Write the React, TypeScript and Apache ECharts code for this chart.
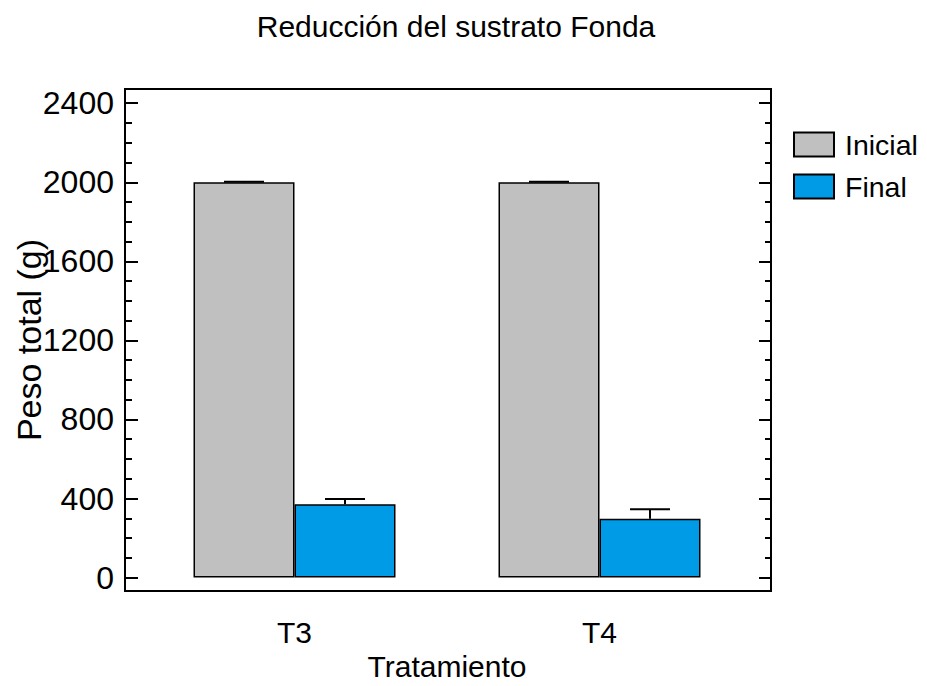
import React, { useEffect, useRef } from "react";
import * as echarts from "echarts";

const categories = ["T3", "T4"];
const inicialValues = [2000, 2000];
const inicialErrors = [3, 3];
const finalValues = [371, 298];
const finalErrors = [27, 48];
const majorTicks = [0, 400, 800, 1200, 1600, 2000, 2400];
const minorTicks = [
  0, 100, 200, 300, 400, 500, 600, 700, 800, 900, 1000, 1100, 1200, 1300, 1400,
  1500, 1600, 1700, 1800, 1900, 2000, 2100, 2200, 2300, 2400,
];

const FONT = "'Liberation Sans', Arial, sans-serif";
const GRAY = "#c0c0c0";
const BLUE = "#009be6";

export default function App() {
  const ref = useRef<HTMLDivElement>(null);
  useEffect(() => {
    if (!ref.current) return;
    const chart = echarts.init(ref.current, null, { renderer: "svg" });
    const yMin = -68;
    const yMax = 2472;
    const barW = 101;
    const bandW = 305;
    const errSeries = (name: string, vals: number[], errs: number[], side: number) => ({
      type: "custom",
      name,
      z: 5,
      data: vals.map((v, i) => [i, v, errs[i]]),
      renderItem: (params: any, api: any) => {
        const idx = api.value(0);
        const v = api.value(1);
        const e = api.value(2);
        const band = api.size([1, 0])[0];
        const off = (side * band * (barW / 2)) / bandW;
        const base = api.coord([idx, v]);
        const top = api.coord([idx, v + e]);
        const x = base[0] + off;
        const st = { stroke: "#000", lineWidth: 2 };
        return {
          type: "group",
          children: [
            { type: "line", shape: { x1: x, y1: base[1], x2: x, y2: top[1] }, style: st },
            { type: "line", shape: { x1: x - 20, y1: top[1], x2: x + 20, y2: top[1] }, style: st },
          ],
        };
      },
    });
    const yCommon = {
      type: "value",
      min: yMin,
      max: yMax,
      splitLine: { show: false },
      axisLine: { show: false },
    };
    chart.setOption({
      animation: false,
      backgroundColor: "#fff",
      textStyle: { fontFamily: FONT },
      title: {
        text: "Reducción del sustrato Fonda",
        left: 451,
        top: 6,
        textAlign: "center",
        textStyle: { fontFamily: FONT, fontSize: 30, fontWeight: "normal", color: "#000" },
      },
      legend: {
        orient: "vertical",
        left: 793,
        top: 130,
        padding: 0,
        itemWidth: 40,
        itemHeight: 24,
        itemGap: 13,
        icon: "rect",
        data: ["Inicial", "Final"],
        textStyle: { fontFamily: FONT, fontSize: 28.5, color: "#000", padding: [0, 0, 0, 6] },
      },
      grid: {
        left: 142,
        right: 175,
        top: 89,
        bottom: 95,
        containLabel: false,
        outerBoundsMode: "none",
      },
      xAxis: {
        type: "category",
        data: categories,
        axisLine: { show: false },
        axisTick: { show: false },
        axisLabel: { fontFamily: FONT, fontSize: 30, color: "#000", margin: 26 },
        name: "Tratamiento",
        nameLocation: "middle",
        nameGap: 60,
        nameMoveOverlap: false,
        nameTextStyle: { fontFamily: FONT, fontSize: 30, color: "#000" },
      },
      yAxis: [
        {
          ...yCommon,
          position: "left",
          offset: 17,
          axisTick: {
            show: true,
            inside: true,
            length: 13,
            customValues: majorTicks,
            lineStyle: { color: "#000", width: 2 },
          },
          axisLabel: {
            customValues: majorTicks,
            formatter: (v: number) => String(v),
            fontFamily: FONT,
            fontSize: 32,
            color: "#000",
            margin: 11,
          },
          name: "Peso total (g)",
          nameLocation: "middle",
          nameGap: 79,
          nameMoveOverlap: false,
          nameTextStyle: { fontFamily: FONT, fontSize: 34, color: "#000" },
        },
        {
          ...yCommon,
          position: "left",
          offset: 17,
          axisTick: {
            show: true,
            inside: true,
            length: 7,
            customValues: minorTicks,
            lineStyle: { color: "#000", width: 2 },
          },
          axisLabel: { show: false },
        },
        {
          ...yCommon,
          position: "right",
          offset: 19,
          axisTick: {
            show: true,
            inside: true,
            length: 12,
            customValues: majorTicks,
            lineStyle: { color: "#000", width: 2 },
          },
          axisLabel: { show: false },
        },
        {
          ...yCommon,
          position: "right",
          offset: 19,
          axisTick: {
            show: true,
            inside: true,
            length: 6,
            customValues: minorTicks,
            lineStyle: { color: "#000", width: 2 },
          },
          axisLabel: { show: false },
        },
      ],
      graphic: [
        {
          type: "rect",
          shape: { x: 125, y: 89, width: 646, height: 502 },
          style: { fill: "none", stroke: "#000", lineWidth: 2 },
          z: 10,
          silent: true,
        },
      ],
      series: [
        {
          type: "bar",
          name: "Inicial",
          data: inicialValues,
          barWidth: barW,
          barGap: "0%",
          itemStyle: { color: GRAY, borderColor: "#000", borderWidth: 1.5 },
        },
        {
          type: "bar",
          name: "Final",
          data: finalValues,
          barWidth: barW,
          barGap: "0%",
          itemStyle: { color: BLUE, borderColor: "#000", borderWidth: 1.5 },
        },
        errSeries("errInicial", inicialValues, inicialErrors, -1),
        errSeries("errFinal", finalValues, finalErrors, 1),
      ],
    });
    return () => chart.dispose();
  }, []);
  return (
    <div
      ref={ref}
      style={{ position: "absolute", left: 0, top: 0, width: 927, height: 686 }}
    />
  );
}
